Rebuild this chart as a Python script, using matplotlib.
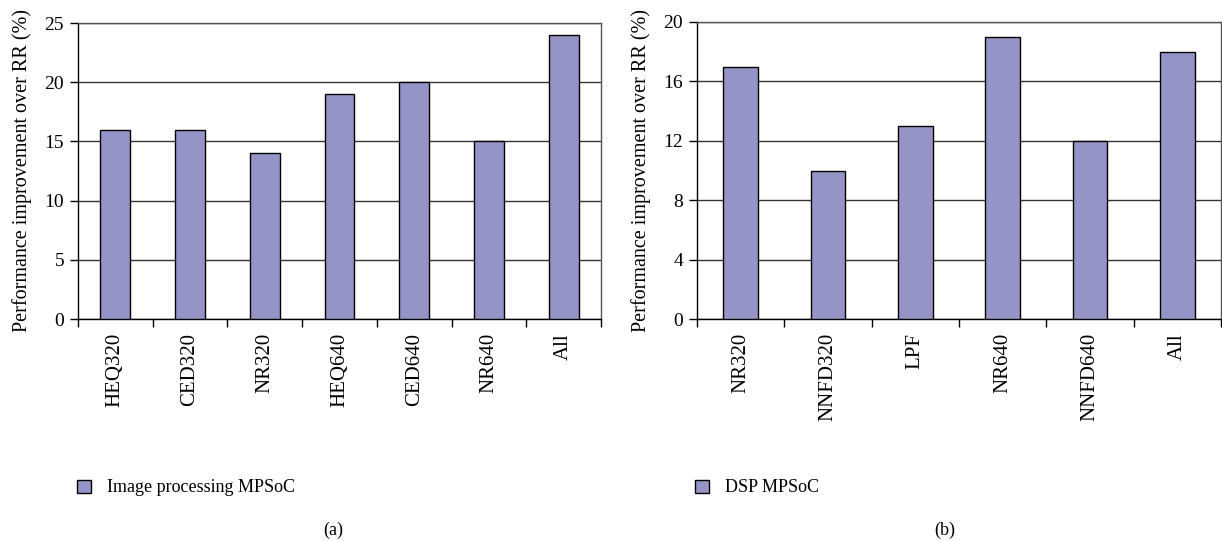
import matplotlib
matplotlib.use("Agg")
import matplotlib.pyplot as plt
from matplotlib.patches import Patch

plt.rcParams['font.family'] = ['Liberation Serif', 'DejaVu Serif']

cats_a = ["HEQ320", "CED320", "NR320", "HEQ640", "CED640", "NR640", "All"]
vals_a = [16, 16, 14, 19, 20, 15, 24]
cats_b = ["NR320", "NNFD320", "LPF", "NR640", "NNFD640", "All"]
vals_b = [17, 10, 13, 19, 12, 18]
yticks_a = [0, 5, 10, 15, 20, 25]
yticks_b = [0, 4, 8, 12, 16, 20]
label_a = "Image processing MPSoC"
label_b = "DSP MPSoC"
ylabel = "Performance improvement over RR (%)"

W, H = 1222, 541
fig = plt.figure(figsize=(W / 100, H / 100), dpi=100)

bar_color = "#9494c6"

def px(x0, y_top, x1, y_bot):
    return [x0 / W, 1 - y_bot / H, (x1 - x0) / W, (y_bot - y_top) / H]

def draw(ax, cats, vals, yticks, leg_label, leg_x, cap, cap_x):
    n = len(cats)
    xs = list(range(n))
    ax.bar(xs, vals, width=0.4, color=bar_color, edgecolor="black", linewidth=1.0, zorder=3)
    ax.set_xlim(-0.5, n - 0.5)
    ax.set_ylim(yticks[0], yticks[-1])
    ax.set_yticks(yticks)
    ax.set_yticklabels([str(t) for t in yticks], fontsize=14)
    ax.yaxis.grid(True, color="#333333", linewidth=1.0, zorder=0)
    ax.set_axisbelow(True)
    ax.set_xticks(xs)
    ax.set_xticklabels(cats, rotation=90, fontsize=15)
    ax.tick_params(axis="x", which="major", length=0, pad=10)
    ax.set_xticks([i - 0.5 for i in range(n + 1)], minor=True)
    ax.tick_params(axis="x", which="minor", length=6, width=1.0, direction="out", color="black")
    ax.tick_params(axis="y", length=6, width=1.0, direction="out", pad=4)
    ax.set_ylabel(ylabel, fontsize=14.5, labelpad=9)
    for s in ["left", "bottom"]:
        ax.spines[s].set_color("black")
        ax.spines[s].set_linewidth(1.0)
    for s in ["top", "right"]:
        ax.spines[s].set_color("#555555")
        ax.spines[s].set_linewidth(1.0)
    handle = Patch(facecolor=bar_color, edgecolor="black", linewidth=1.0)
    fig.legend([handle], [leg_label], loc="center left",
               bbox_to_anchor=(leg_x / W, 1 - 488 / H), frameon=False,
               fontsize=13, handlelength=0.75, handleheight=0.75, handletextpad=0.9,
               borderaxespad=0, borderpad=0)
    fig.text(cap_x / W, 1 - 530 / H, cap, ha="center", va="center", fontsize=13)

ax1 = fig.add_axes(px(78, 23, 601, 319))
draw(ax1, cats_a, vals_a, yticks_a, label_a, 77, "(a)", 333)
ax2 = fig.add_axes(px(697, 22, 1221, 319))
draw(ax2, cats_b, vals_b, yticks_b, label_b, 695, "(b)", 945)

fig.savefig("out.png", dpi=100)
